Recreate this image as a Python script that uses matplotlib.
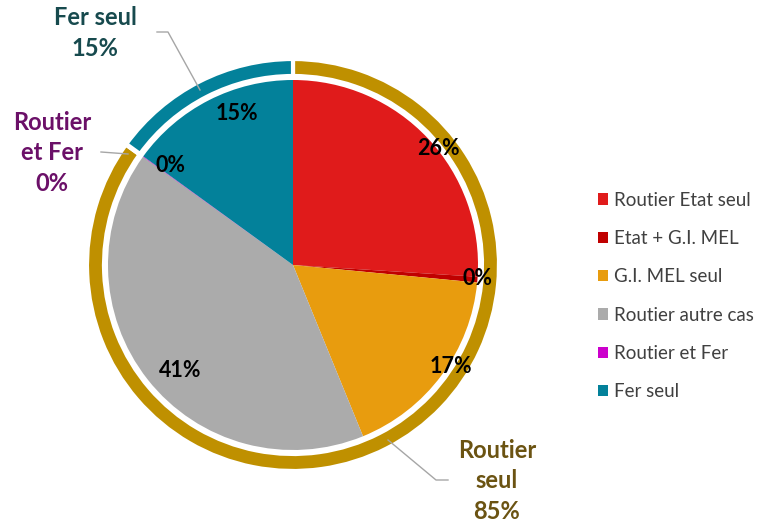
import matplotlib.pyplot as plt
from matplotlib.patches import Patch

plt.rcParams['font.family'] = ['Lato', 'DejaVu Sans']

# inner pie: detail by manager
categories = ['Routier Etat seul', 'Etat + G.I. MEL', 'G.I. MEL seul',
              'Routier autre cas', 'Routier et Fer', 'Fer seul']
values = [26.0, 0.5, 17.3, 41.1, 0.05, 15.0]
labels = ['26%', '0%', '17%', '41%', '0%', '15%']
colors = ['#E01B1B', '#C00000', '#E89C0E', '#ABABAB', '#CC00CC', '#03819A']

# outer ring: grouped
groups = ['Routier\nseul', 'Routier\net Fer', 'Fer seul']
group_values = [84.9, 0.05, 15.0]
group_labels = ['85%', '0%', '15%']
group_colors = ['#BF9000', '#CC00CC', '#03819A']
group_text_colors = ['#6B5312', '#6B1068', '#174A4E']

fig = plt.figure(figsize=(7.82, 5.26), dpi=100)
ax = fig.add_axes([0, 0, 1, 1])

cx, cy = 293, 526 - 265
r_pie = 185
r_out = 206
ring_w = 17

ax.pie(group_values, radius=r_out, center=(cx, cy), startangle=90,
       counterclock=False, colors=group_colors,
       wedgeprops=dict(width=ring_w, edgecolor='white', linewidth=3))
ax.pie(values, radius=r_pie, center=(cx, cy), startangle=90,
       counterclock=False, colors=colors,
       labels=labels, labeldistance=0.92,
       textprops=dict(fontsize=15.5, fontweight='bold', color='black'))

# outer labels with leader lines (positions in pixel coords)
lab_kw = dict(ha='center', va='center', fontsize=17, fontweight='bold', linespacing=1.38)
ax.text(95, 526 - 33, groups[2] + '\n' + group_labels[2],
        color=group_text_colors[2], **lab_kw)
ax.plot([157, 168, 200], [526 - 32, 526 - 32, 526 - 90], color='#A6A6A6', lw=1)

ax.text(52, 526 - 153, groups[1] + '\n' + group_labels[1],
        color=group_text_colors[1], **lab_kw)
ax.plot([101, 128], [526 - 152, 526 - 154], color='#A6A6A6', lw=1)

ax.text(497, 526 - 481, groups[0] + '\n' + group_labels[0],
        color=group_text_colors[0], **lab_kw)
ax.plot([388, 436, 448], [526 - 440, 526 - 480, 526 - 480], color='#A6A6A6', lw=1)

handles = [Patch(facecolor=c, edgecolor='none') for c in colors]
leg = ax.legend(handles, categories, loc='upper left',
                bbox_to_anchor=(590 / 782, 1 - 184 / 526), frameon=False,
                fontsize=13.5, labelspacing=1.14, handlelength=0.55, handleheight=0.55,
                handletextpad=0.35, borderaxespad=0)
for t in leg.get_texts():
    t.set_color('#404040')

ax.set_xlim(0, 782)
ax.set_ylim(0, 526)
ax.set_aspect('equal')
ax.axis('off')

fig.savefig('out.png', dpi=100)
